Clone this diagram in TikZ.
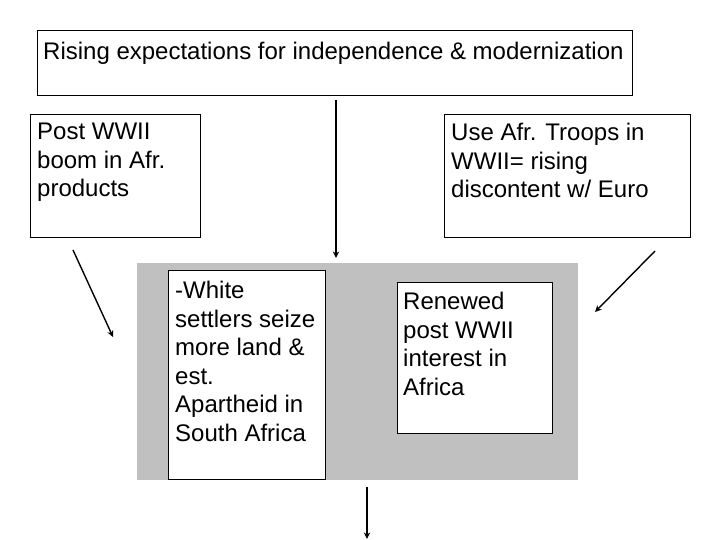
\documentclass[tikz,border=0pt]{standalone}
\usepackage{fontspec}
\setmainfont{Liberation Sans}
\usepackage{tikz}
\usetikzlibrary{arrows.meta,positioning}
\definecolor{Shade}{HTML}{C0C0C0}
\tikzset{
 box/.style={draw=black,fill=white,anchor=north west,inner sep=0pt,line width=0.8pt},
 txt/.style={anchor=north west,align=left,inner sep=0pt,font=\fontsize{24}{28.6}\selectfont},
 arr/.style={-{Stealth[length=2.3mm,width=2.2mm]},line width=1.4pt}
}
\begin{document}
\begin{tikzpicture}[x=1pt,y=-1pt]
\useasboundingbox (0,0) rectangle (720,540);
\node[box,minimum width=595,minimum height=65] (rising) at (37,30) {};
\node[txt] (risingtxt) at (43,42) {Rising expectations for independence \& modernization};
\node[box,minimum width=170,minimum height=123] (boom) at (30,114) {};
\node[txt] (boomtxt) at (37,123) {Post WWII\\boom in Afr.\\products};
\node[box,minimum width=246,minimum height=123] (troops) at (444,114) {};
\node[txt] (troopstxt) at (451,123) {Use Afr. Troops in\\WWII= rising\\discontent w/ Euro};
\node[box,draw=none,fill=Shade,minimum width=441,minimum height=217] (panel) at (137,263) {};
\node[box,minimum width=157,minimum height=209] (settlers) at (168,270) {};
\node[txt] (settlerstxt) at (175,281) {-White\\settlers seize\\more land \&\\est.\\Apartheid in\\South Africa};
\node[box,minimum width=155,minimum height=151] (renewed) at (397,282) {};
\node[txt] (renewedtxt) at (403,292) {Renewed\\post WWII\\interest in\\Africa};
\coordinate (c1) at (336,100); \coordinate (c2) at (336,258);
\coordinate (l1) at (73,250); \coordinate (l2) at (113,337);
\coordinate (r1) at (655,251); \coordinate (r2) at (595,312);
\coordinate (b1) at (367,487); \coordinate (b2) at (367,539);
\draw[arr] (c1)--(c2);
\draw[arr] (l1)--(l2);
\draw[arr] (r1)--(r2);
\draw[arr] (b1)--(b2);
\end{tikzpicture}
\end{document}
